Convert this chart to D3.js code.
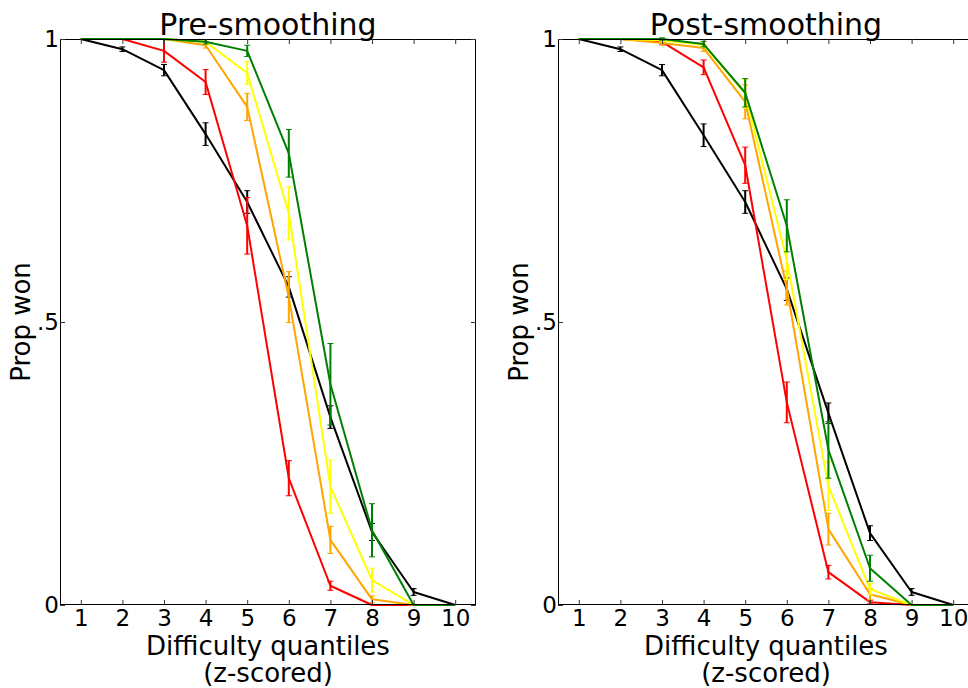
<!DOCTYPE html>
<html>
<head>
<meta charset="utf-8">
<script src="https://cdn.jsdelivr.net/npm/d3@7"></script>
<style>
  body { margin: 0; background: #fff; }
  svg { display: block; font-family: "DejaVu Sans", sans-serif; }
</style>
</head>
<body>
<div id="chart"></div>
<script>
// Difficulty quantiles on the x axis
const quantiles = [1, 2, 3, 4, 5, 6, 7, 8, 9, 10];
const yTicks = [0, 0.5, 1];
const yTickLabels = ["0", ".5", "1"];
const seriesColors = ["black", "red", "orange", "yellow", "green"];

// Pre-smoothing: proportion won, with error bar half-widths
const preBlack = [1, 0.982, 0.945, 0.832, 0.712, 0.562, 0.332, 0.129, 0.023, 0];
const preBlackErr = [0, 0.004, 0.01, 0.02, 0.02, 0.018, 0.02, 0.015, 0.006, 0];
const preRed = [1, 1, 0.979, 0.924, 0.67, 0.224, 0.034, 0, 0, 0];
const preRedErr = [0, 0, 0.02, 0.022, 0.05, 0.031, 0.008, 0, 0, 0];
const preOrange = [1, 1, 1, 0.989, 0.88, 0.544, 0.115, 0.01, 0, 0];
const preOrangeErr = [0, 0, 0, 0.005, 0.024, 0.045, 0.024, 0.006, 0, 0];
const preYellow = [1, 1, 1, 0.995, 0.94, 0.692, 0.209, 0.044, 0, 0];
const preYellowErr = [0, 0, 0, 0.004, 0.02, 0.047, 0.047, 0.021, 0, 0];
const preGreen = [1, 1, 1, 0.995, 0.979, 0.798, 0.39, 0.132, 0, 0];
const preGreenErr = [0, 0, 0, 0.004, 0.01, 0.042, 0.072, 0.047, 0, 0];

// Post-smoothing
const postBlack = [1, 0.982, 0.945, 0.83, 0.712, 0.558, 0.339, 0.127, 0.023, 0];
const postBlackErr = [0, 0.004, 0.01, 0.02, 0.02, 0.02, 0.018, 0.013, 0.006, 0];
const postRed = [1, 1, 0.995, 0.95, 0.777, 0.358, 0.058, 0.005, 0, 0];
const postRedErr = [0, 0, 0.004, 0.013, 0.032, 0.036, 0.012, 0.003, 0, 0];
const postOrange = [1, 1, 0.993, 0.984, 0.889, 0.56, 0.134, 0.019, 0, 0];
const postOrangeErr = [0, 0, 0.004, 0.006, 0.03, 0.03, 0.028, 0.01, 0, 0];
const postYellow = [1, 1, 0.998, 0.99, 0.903, 0.61, 0.21, 0.028, 0, 0];
const postYellowErr = [0, 0, 0.003, 0.005, 0.025, 0.035, 0.043, 0.01, 0, 0];
const postGreen = [1, 1, 1, 0.991, 0.905, 0.67, 0.274, 0.065, 0, 0];
const postGreenErr = [0, 0, 0.002, 0.005, 0.025, 0.046, 0.05, 0.023, 0, 0];

const panels = [
    {
        title: "Pre-smoothing",
        left: 60,
        values: [preBlack, preRed, preOrange, preYellow, preGreen],
        errors: [preBlackErr, preRedErr, preOrangeErr, preYellowErr, preGreenErr]
    },
    {
        title: "Post-smoothing",
        left: 558,
        values: [postBlack, postRed, postOrange, postYellow, postGreen],
        errors: [postBlackErr, postRedErr, postOrangeErr, postYellowErr, postGreenErr]
    }
];

const W = 968, H = 688;
const plotW = 416;
const plotTop = 39, plotBottom = 605;

const svg = d3.select('#chart')
    .append('svg')
    .attr('width', W)
    .attr('height', H);

panels.forEach(p => {
    const x = d3.scaleLinear().domain([0.5, 10.5]).range([p.left, p.left + plotW]);
    const y = d3.scaleLinear().domain([0, 1]).range([plotBottom, plotTop]);

    const g = svg.append('g');

    // Series lines + error bars
    p.values.forEach((vals, i) => {
        const color = seriesColors[i];
        const errs = p.errors[i];
        const pts = quantiles.map((q, j) => ({ q, v: vals[j], e: errs[j] }));

        g.append('path')
            .datum(pts)
            .attr('fill', 'none')
            .attr('stroke', color)
            .attr('stroke-width', 2)
            .attr('stroke-linejoin', 'round')
            .attr('d', d3.line().x(d => x(d.q)).y(d => y(d.v)));

        const eb = g.selectAll(null)
            .data(pts.filter(d => d.e > 0))
            .enter()
            .append('g')
            .attr('stroke', color);

        eb.append('line')
            .attr('x1', d => x(d.q)).attr('x2', d => x(d.q))
            .attr('y1', d => y(d.v + d.e)).attr('y2', d => y(d.v - d.e))
            .attr('stroke-width', 2);
        eb.append('line')
            .attr('x1', d => x(d.q) - 3).attr('x2', d => x(d.q) + 3)
            .attr('y1', d => y(d.v + d.e)).attr('y2', d => y(d.v + d.e))
            .attr('stroke-width', 1);
        eb.append('line')
            .attr('x1', d => x(d.q) - 3).attr('x2', d => x(d.q) + 3)
            .attr('y1', d => y(d.v - d.e)).attr('y2', d => y(d.v - d.e))
            .attr('stroke-width', 1);
    });

    // Frame
    g.append('rect')
        .attr('x', p.left + 0.5)
        .attr('y', plotTop + 0.5)
        .attr('width', plotW - 1)
        .attr('height', plotBottom - plotTop - 1)
        .attr('fill', 'none')
        .attr('stroke', 'black')
        .attr('stroke-width', 1);

    // Axes with inward ticks
    g.append('g')
        .attr('transform', `translate(0,${plotBottom})`)
        .call(d3.axisBottom(x).tickValues(quantiles).tickSize(-5).tickSizeOuter(0).tickPadding(5));
    g.append('g')
        .attr('transform', `translate(0,${plotTop})`)
        .call(d3.axisTop(x).tickValues(quantiles).tickSize(-5).tickSizeOuter(0).tickFormat(''));
    g.append('g')
        .attr('transform', `translate(${p.left},0)`)
        .call(d3.axisLeft(y).tickValues(yTicks).tickSize(-5).tickSizeOuter(0).tickPadding(1)
            .tickFormat((d, i) => yTickLabels[i]));
    g.append('g')
        .attr('transform', `translate(${p.left + plotW},0)`)
        .call(d3.axisRight(y).tickValues(yTicks).tickSize(-5).tickSizeOuter(0).tickFormat(''));

    g.selectAll('.domain').remove();
    g.selectAll('.tick line').attr('stroke', '#333');
    g.selectAll('.tick text')
        .attr('fill', 'black')
        .style('font-size', '23px')
        .style('font-family', '"DejaVu Sans", sans-serif');

    // Titles and axis labels
    const cx = p.left + plotW / 2;
    g.append('text')
        .attr('x', cx)
        .attr('y', 35)
        .attr('text-anchor', 'middle')
        .style('font-size', '30px')
        .text(p.title);

    g.append('text')
        .attr('x', cx)
        .attr('y', 655)
        .attr('text-anchor', 'middle')
        .style('font-size', '26px')
        .text('Difficulty quantiles');
    g.append('text')
        .attr('x', cx)
        .attr('y', 682)
        .attr('text-anchor', 'middle')
        .style('font-size', '26px')
        .text('(z-scored)');

    g.append('text')
        .attr('transform', `translate(${p.left - 30},${(plotTop + plotBottom) / 2}) rotate(-90)`)
        .attr('text-anchor', 'middle')
        .style('font-size', '26px')
        .text('Prop won');
});
</script>
</body>
</html>
